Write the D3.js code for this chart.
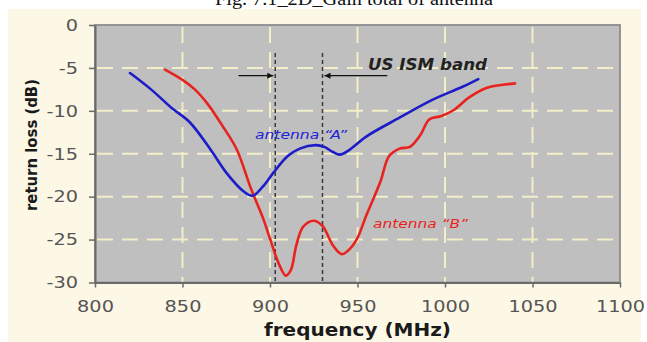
<!DOCTYPE html>
<html>
<head>
<meta charset="utf-8">
<script src="https://cdn.jsdelivr.net/npm/d3@7"></script>
<style>
  html, body { margin: 0; padding: 0; background: #ffffff; }
  svg { display: block; }
</style>
</head>
<body>
<script>
// ---------------- data ----------------
const xTicks = [800, 850, 900, 950, 1000, 1050, 1100];
const yTicks = [0, -5, -10, -15, -20, -25, -30];

const antennaAFreq = [820, 832, 844, 854, 866, 875, 885, 890, 896, 902, 910, 917, 926, 931, 936, 940, 945, 955, 974, 993, 1010, 1019];
const antennaALoss = [-5.6, -7.5, -9.7, -11.3, -14.5, -17.2, -19.4, -19.9, -18.8, -17.2, -15.3, -14.4, -14.0, -14.2, -14.8, -15.1, -14.6, -13.0, -10.8, -8.7, -7.2, -6.3];

const antennaBFreq = [840, 850, 857, 864, 873, 881, 889, 896, 900, 905, 909, 912, 915, 919, 925, 930, 936, 941, 946, 950, 955, 963, 968, 974, 980, 986, 991, 998, 1005, 1014, 1024, 1032, 1040];
const antennaBLoss = [-5.2, -6.4, -7.5, -9.1, -11.8, -14.5, -19.0, -22.5, -24.9, -27.8, -29.2, -28.5, -25.7, -23.5, -22.8, -23.4, -25.7, -26.7, -26.0, -24.8, -22.2, -18.3, -15.3, -14.4, -14.2, -12.8, -11.0, -10.6, -9.9, -8.4, -7.3, -7.0, -6.8];

const ismBand = [903, 930];          // dashed band edges (MHz)
const ismBandTop = -3.25;            // top of band lines (dB)
const ismArrowLevel = -5.9;          // arrows level (dB)
const ismArrowStarts = [882, 967];   // arrow tails (MHz)

const labels = {
  title: "Fig. 7.1_2D_Gain total of antenna",
  xTitle: "frequency (MHz)",
  yTitle: "return loss (dB)",
  band: "US ISM band",
  a: "antenna \u201CA\u201D",
  b: "antenna \u201CB\u201D"
};

// ---------------- layout ----------------
const W = 647, H = 342;
const plot = { left: 95, right: 620, top: 25, bottom: 282.5 };

const svg = d3.select("body").append("svg").attr("width", W).attr("height", H);

const defs = svg.append("defs");
defs.append("marker")
  .attr("id", "arrow").attr("viewBox", "0 0 10 10")
  .attr("refX", 10).attr("refY", 5)
  .attr("markerWidth", 8).attr("markerHeight", 6)
  .attr("markerUnits", "userSpaceOnUse")
  .attr("orient", "auto")
  .append("path").attr("d", "M0,0 L10,5 L0,10 Z").attr("fill", "#111");

// background
svg.append("rect").attr("x", 0).attr("y", 0).attr("width", W).attr("height", H).attr("fill", "#ffffff");
svg.append("rect").attr("x", 8).attr("y", 9).attr("width", 633).attr("height", H - 9).attr("fill", "#fdf7e6");

// caption at the very top (cut off, as in the source image)
svg.append("text")
  .attr("x", 354).attr("y", 5)
  .attr("text-anchor", "middle")
  .attr("font-family", "'Liberation Serif', 'DejaVu Serif', serif")
  .attr("font-size", 18)
  .attr("fill", "#111")
  .attr("textLength", 278).attr("lengthAdjust", "spacingAndGlyphs")
  .text(labels.title);

const x = d3.scaleLinear().domain([800, 1100]).range([plot.left, plot.right]);
const y = d3.scaleLinear().domain([-30, 0]).range([plot.bottom, plot.top]);

// plot area
svg.append("rect")
  .attr("x", plot.left).attr("y", plot.top)
  .attr("width", plot.right - plot.left).attr("height", plot.bottom - plot.top)
  .attr("fill", "#bfbfbf")
  .attr("stroke", "#8c8c8c").attr("stroke-width", 1.8);

// grid
const grid = svg.append("g").attr("stroke", "#f2eec8").attr("stroke-width", 2).attr("stroke-dasharray", "16,9");
grid.selectAll("line.v").data(xTicks.slice(1, -1)).join("line")
  .attr("x1", d => x(d)).attr("x2", d => x(d))
  .attr("y1", plot.top + 2).attr("y2", plot.bottom - 1);
grid.selectAll("line.h").data(yTicks.slice(1, -1)).join("line")
  .attr("y1", d => y(d)).attr("y2", d => y(d))
  .attr("x1", plot.left + 2).attr("x2", plot.right - 2);

// axes
const stretch = 1.17;
function styleAxis(g) {
  g.select(".domain").attr("stroke", "#6a6a6a").attr("stroke-width", 2);
  g.selectAll(".tick line").attr("stroke", "#6a6a6a").attr("stroke-width", 1.5);
  g.selectAll(".tick text")
    .attr("fill", "#555555")
    .attr("font-family", "'DejaVu Sans', Verdana, sans-serif")
    .attr("font-size", 16.5)
    .each(function () {
      const len = this.getComputedTextLength();
      d3.select(this).attr("textLength", len * stretch).attr("lengthAdjust", "spacingAndGlyphs");
    });
}

const xAxis = svg.append("g")
  .attr("transform", `translate(0,${plot.bottom})`)
  .call(d3.axisBottom(x).tickValues(xTicks).tickSize(5).tickPadding(13).tickSizeOuter(0).tickFormat(d => String(d)));
styleAxis(xAxis);

const yAxis = svg.append("g")
  .attr("transform", `translate(${plot.left},0)`)
  .call(d3.axisLeft(y).tickValues(yTicks).tickSize(6).tickPadding(11).tickSizeOuter(0)
    .tickFormat(d => d < 0 ? "-" + Math.abs(d) : String(d)));
styleAxis(yAxis);

// axis titles
svg.append("text")
  .attr("x", (plot.left + plot.right) / 2).attr("y", 336)
  .attr("text-anchor", "middle")
  .attr("font-family", "'DejaVu Sans', Verdana, sans-serif")
  .attr("font-weight", "bold").attr("font-size", 17.5)
  .attr("fill", "#1a1a1a")
  .attr("textLength", 187).attr("lengthAdjust", "spacingAndGlyphs")
  .text(labels.xTitle);

svg.append("text")
  .attr("transform", "translate(37,145) rotate(-90)")
  .attr("text-anchor", "middle")
  .attr("font-family", "'DejaVu Sans', Verdana, sans-serif")
  .attr("font-weight", "bold").attr("font-size", 16.5)
  .attr("fill", "#1a1a1a")
  .attr("textLength", 132).attr("lengthAdjust", "spacingAndGlyphs")
  .text(labels.yTitle);

// ISM band dashed lines
svg.append("g").selectAll("line").data(ismBand).join("line")
  .attr("x1", d => x(d)).attr("x2", d => x(d))
  .attr("y1", y(ismBandTop)).attr("y2", plot.bottom)
  .attr("stroke", "#3a3a3a").attr("stroke-width", 1.5).attr("stroke-dasharray", "4,3");

// arrows
svg.append("g").selectAll("line").data(ismBand).join("line")
  .attr("x1", (d, i) => x(ismArrowStarts[i]))
  .attr("x2", (d, i) => x(d) + (i === 0 ? -2 : 2))
  .attr("y1", y(ismArrowLevel)).attr("y2", y(ismArrowLevel))
  .attr("stroke", "#111").attr("stroke-width", 1.3)
  .attr("marker-end", "url(#arrow)");

// curves
const line = d3.line().curve(d3.curveCatmullRom.alpha(0.5));
const ptsA = antennaAFreq.map((f, i) => [x(f), y(antennaALoss[i])]);
const ptsB = antennaBFreq.map((f, i) => [x(f), y(antennaBLoss[i])]);

svg.append("path").attr("d", line(ptsB))
  .attr("fill", "none").attr("stroke", "#e8231e").attr("stroke-width", 2.6)
  .attr("stroke-linejoin", "round").attr("stroke-linecap", "round");
svg.append("path").attr("d", line(ptsA))
  .attr("fill", "none").attr("stroke", "#1c1cc8").attr("stroke-width", 2.6)
  .attr("stroke-linejoin", "round").attr("stroke-linecap", "round");

// annotations
svg.append("text")
  .attr("x", x(956)).attr("y", y(-5.2))
  .attr("font-family", "'DejaVu Sans', Verdana, sans-serif")
  .attr("font-weight", "bold").attr("font-style", "italic").attr("font-size", 15)
  .attr("fill", "#222")
  .attr("textLength", 119).attr("lengthAdjust", "spacingAndGlyphs")
  .text(labels.band);

svg.append("text")
  .attr("x", x(891.4)).attr("y", y(-13.25))
  .attr("font-family", "'DejaVu Sans', Verdana, sans-serif")
  .attr("font-style", "italic").attr("font-size", 12.5)
  .attr("fill", "#2222d8")
  .attr("textLength", 92).attr("lengthAdjust", "spacingAndGlyphs")
  .text(labels.a);

svg.append("text")
  .attr("x", x(958.9)).attr("y", y(-23.7))
  .attr("font-family", "'DejaVu Sans', Verdana, sans-serif")
  .attr("font-style", "italic").attr("font-size", 12.5)
  .attr("fill", "#e8231e")
  .attr("textLength", 95).attr("lengthAdjust", "spacingAndGlyphs")
  .text(labels.b);
</script>
</body>
</html>
